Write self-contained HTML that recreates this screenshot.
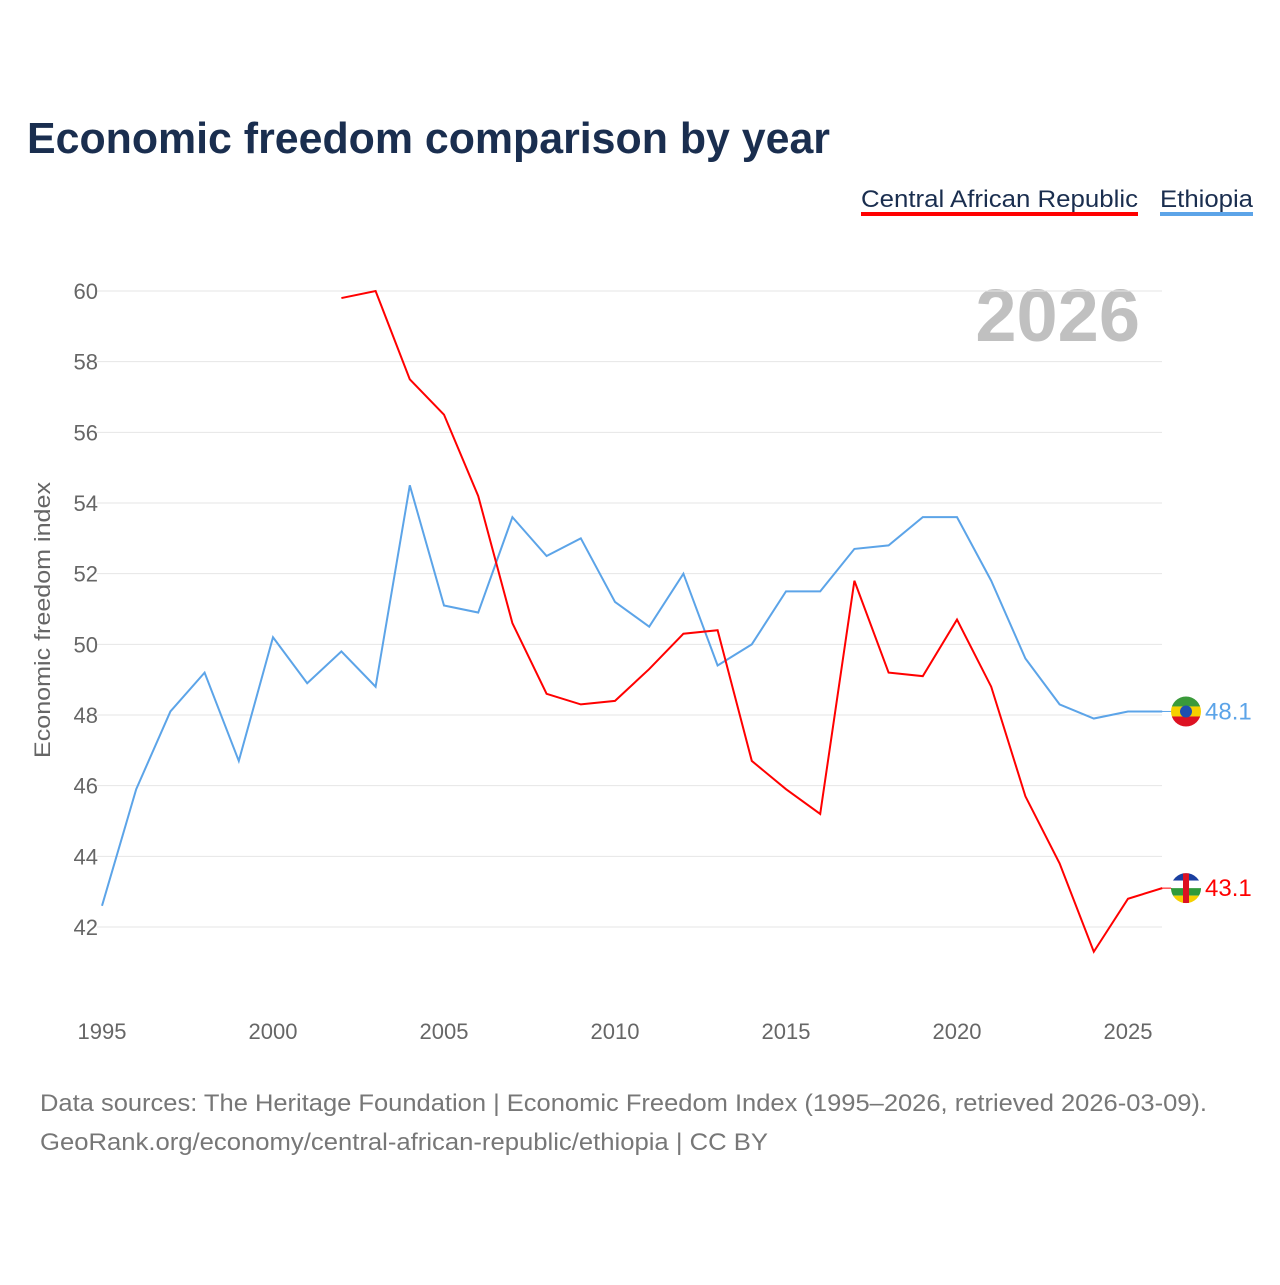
<!DOCTYPE html>
<html><head><meta charset="utf-8"><style>
body{margin:0;background:#fff;font-family:"Liberation Sans",sans-serif;}
svg text{font-family:"Liberation Sans",sans-serif;}
</style></head><body>
<svg id="chart" width="1280" height="1280">
<defs>
<clipPath id="clipE"><circle id="cE" cx="1186" cy="0" r="15"/></clipPath>
<clipPath id="clipC"><circle id="cC" cx="1186" cy="0" r="15"/></clipPath>
</defs>
<rect width="1280" height="1280" fill="#fff"/>
<text x="27" y="153" font-size="44" font-weight="bold" fill="#1a2e4f" textLength="803" lengthAdjust="spacingAndGlyphs">Economic freedom comparison by year</text>
<g>
<text x="861" y="207" font-size="24" fill="#1a2e4f" textLength="277" lengthAdjust="spacingAndGlyphs">Central African Republic</text>
<rect x="861" y="212" width="277" height="4" fill="#ff0000"/>
<text x="1160" y="207" font-size="24" fill="#1a2e4f" textLength="93" lengthAdjust="spacingAndGlyphs">Ethiopia</text>
<rect x="1160" y="212" width="93" height="4" fill="#5ca4e8"/>
</g>
<text x="1140" y="341" font-size="74" font-weight="bold" fill="#c0c0c0" text-anchor="end">2026</text>
<text transform="translate(50,620) rotate(-90)" font-size="22" fill="#666" text-anchor="middle" textLength="276" lengthAdjust="spacingAndGlyphs">Economic freedom index</text>
<g id="grid"></g><g id="yticks"></g><g id="xticks"></g><g id="series"></g>
<text x="40" y="1111" font-size="24" fill="#777" textLength="1167" lengthAdjust="spacingAndGlyphs">Data sources: The Heritage Foundation | Economic Freedom Index (1995–2026, retrieved 2026-03-09).</text>
<text x="40" y="1150" font-size="24" fill="#777" textLength="728" lengthAdjust="spacingAndGlyphs">GeoRank.org/economy/central-african-republic/ethiopia | CC BY</text>
</svg>
<script>
const years=[1995,1996,1997,1998,1999,2000,2001,2002,2003,2004,2005,2006,2007,2008,2009,2010,2011,2012,2013,2014,2015,2016,2017,2018,2019,2020,2021,2022,2023,2024,2025,2026];
const ethiopia=[42.6,45.9,48.1,49.2,46.7,50.2,48.9,49.8,48.8,54.5,51.1,50.9,53.6,52.5,53.0,51.2,50.5,52.0,49.4,50.0,51.5,51.5,52.7,52.8,53.6,53.6,51.8,49.6,48.3,47.9,48.1,48.1];
const car=[null,null,null,null,null,null,null,59.8,60.0,57.5,56.5,54.2,50.6,48.6,48.3,48.4,49.3,50.3,50.4,46.7,45.9,45.2,51.8,49.2,49.1,50.7,48.8,45.7,43.8,41.3,42.8,43.1];
const yTicks=[42,44,46,48,50,52,54,56,58,60];
const xTicks=[1995,2000,2005,2010,2015,2020,2025];
const NS="http://www.w3.org/2000/svg";
const X=y=>102+(y-1995)*34.2;
const Y=v=>927-(v-42)*(636/18);
function mk(t,a,p){const e=document.createElementNS(NS,t);for(const k in a)e.setAttribute(k,a[k]);p.appendChild(e);return e;}
const g=document.getElementById('grid'),yt=document.getElementById('yticks'),xt=document.getElementById('xticks'),s=document.getElementById('series');
yTicks.forEach(v=>{
 const l=mk('line',{x1:97,x2:1162,y1:Y(v),y2:Y(v),stroke:'#e6e6e6','stroke-width':1},g);
 
 
 const t=mk('text',{x:98,y:Y(v)+8,'font-size':22,fill:'#666','text-anchor':'end'},yt);
 t.textContent=v;
 
 
});
xTicks.forEach(v=>{
 const t=mk('text',{x:X(v),y:1039,'font-size':22,fill:'#666','text-anchor':'middle'},xt);
 t.textContent=v;
 
 
});
function line(vals,color,name){
 let d='';vals.forEach((v,i)=>{if(v==null)return;d+=(d?'L':'M')+X(years[i])+','+Y(v);});
 const p=mk('path',{d:d,fill:'none',stroke:color,'stroke-width':2},s);
 
 
}
line(ethiopia,'#5ca4e8','ethiopia-line');
line(car,'#ff0000','car-line');
function endLabel(vals,color,name,clipId,circId,flag){
 const v=vals[vals.length-1],y=Y(v);
 document.getElementById(circId).setAttribute('cy',y);
 mk('line',{x1:1162,x2:1172,y1:y,y2:y,stroke:color,'stroke-width':1},s);
 const c=mk('g',{'clip-path':'url(#'+clipId+')'},s);
 
 
 flag(c,y);
 const t=mk('text',{x:1205,y:y+8,'font-size':24,fill:color},s);
 t.textContent=v.toFixed(1);
 
 
}
endLabel(ethiopia,'#5ca4e8','ethiopia','clipE','cE',(c,y)=>{
 mk('rect',{x:1171,y:y-15,width:30,height:10,fill:'#3a9a3a'},c);
 mk('rect',{x:1171,y:y-5,width:30,height:10,fill:'#f5d000'},c);
 mk('rect',{x:1171,y:y+5,width:30,height:10,fill:'#dd1122'},c);
 mk('circle',{cx:1186,cy:y,r:6,fill:'#1f4fb0'},c);
});
endLabel(car,'#ff0000','car','clipC','cC',(c,y)=>{
 const cols=['#1a3fa0','#ffffff','#2f9a3a','#f5d000'];
 cols.forEach((col,i)=>mk('rect',{x:1171,y:y-15+i*7.5,width:30,height:7.5,fill:col},c));
 mk('rect',{x:1183,y:y-15,width:6,height:30,fill:'#dd1122'},c);
});
</script>
</body></html>
